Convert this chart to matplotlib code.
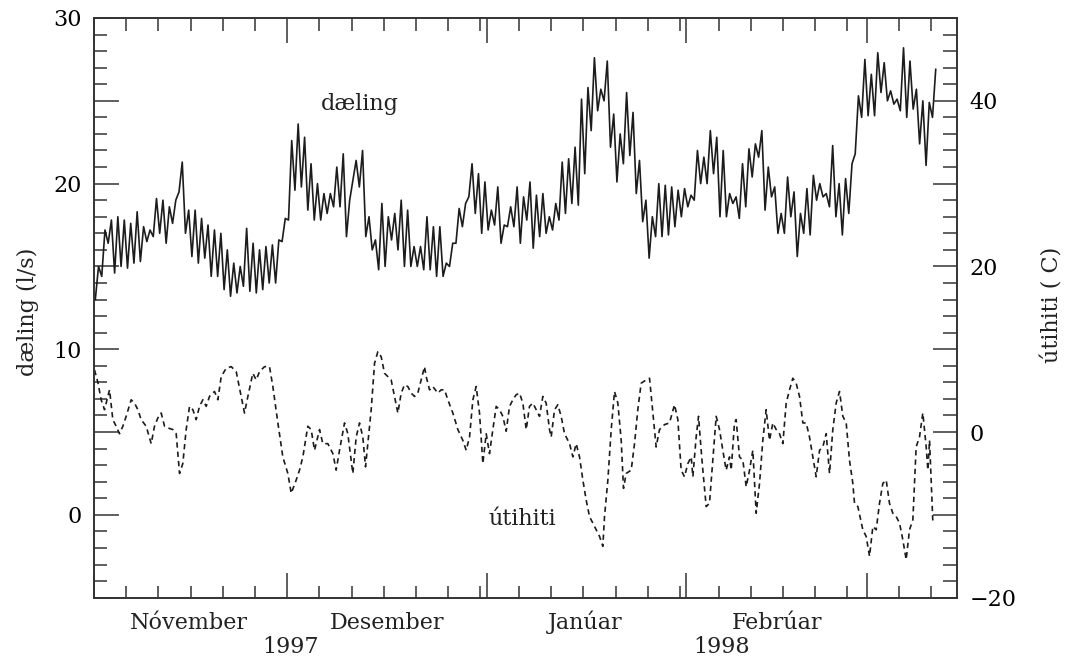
import matplotlib
matplotlib.use('Agg')
import matplotlib.pyplot as plt
import numpy as np
from matplotlib.ticker import MultipleLocator, FixedLocator, FuncFormatter

plt.rcParams['font.family'] = ['DejaVu Serif']

# dæling (l/s): daily high / low, day 0 = 1 Nov 1997
daeling_high = [15.0, 17.2, 17.8, 18.0, 17.8, 17.6, 18.3, 17.4, 17.2, 19.1,
                19.0, 18.6, 19.0, 21.3, 18.4, 18.4, 17.9, 17.5, 17.2, 17.0,
                16.0, 15.2, 15.0, 17.3, 16.4, 16.0, 16.2, 16.3, 16.6, 17.9,
                22.6, 23.6, 22.8, 21.2, 20.0, 19.4, 19.4, 21.0, 21.8, 19.0,
                21.4, 22.0, 18.0, 16.6, 18.8, 18.0, 18.2, 19.0, 18.4, 16.2,
                16.2, 18.0, 17.4, 17.4, 15.2, 16.4, 18.5, 18.8, 21.2, 20.6,
                20.1, 18.4, 19.8, 17.5, 18.6, 19.8, 19.2, 20.1, 19.3, 19.4,
                18.0, 18.8, 21.3, 21.5, 22.2, 25.1, 25.8, 27.6, 25.7, 27.4,
                24.2, 23.0, 25.5, 24.3, 21.4, 19.0, 18.0, 20.0, 19.9, 19.8,
                19.6, 19.7, 19.3, 22.0, 21.6, 23.2, 22.8, 22.0, 19.4, 19.2,
                21.2, 22.1, 22.4, 23.2, 21.0, 19.8, 18.2, 20.4, 19.5, 18.2,
                19.7, 20.5, 20.0, 19.4, 22.3, 20.0, 20.3, 21.2, 25.3, 27.5,
                26.6, 27.9, 27.3, 25.6, 25.1, 28.2, 27.4, 25.7, 25.0, 24.9,
                26.9]
daeling_low = [13.0, 14.4, 16.4, 14.6, 15.0, 14.9, 15.2, 15.3, 16.5, 16.8,
               17.0, 16.4, 17.6, 19.5, 17.0, 15.6, 15.2, 15.5, 14.4, 14.4,
               13.6, 13.2, 13.4, 13.8, 13.5, 13.4, 13.6, 14.0, 14.0, 16.5,
               17.8, 19.6, 19.8, 18.4, 17.8, 17.8, 18.2, 18.6, 18.6, 16.8,
               20.2, 19.8, 16.8, 16.0, 14.8, 15.0, 16.6, 16.0, 15.0, 15.0,
               15.0, 14.8, 14.8, 14.4, 14.4, 15.0, 16.4, 17.4, 19.2, 18.2,
               17.0, 17.2, 17.5, 16.4, 17.4, 17.4, 16.4, 17.8, 16.1, 16.8,
               17.0, 17.2, 17.8, 18.2, 18.8, 18.7, 20.6, 23.2, 24.4, 25.0,
               22.2, 20.1, 21.2, 21.7, 19.4, 17.7, 15.5, 16.8, 16.8, 16.9,
               17.4, 18.0, 18.6, 19.0, 20.0, 20.0, 20.6, 18.0, 18.0, 18.8,
               17.9, 18.6, 20.4, 21.6, 18.4, 19.2, 17.0, 17.0, 18.0, 15.6,
               17.0, 16.9, 19.0, 19.2, 18.6, 18.0, 16.9, 18.2, 21.8, 24.0,
               24.1, 24.1, 25.5, 25.0, 24.8, 24.4, 24.0, 24.5, 22.4, 21.1,
               24.0]

# útihiti (C): readings (day, value)
temp_day = [0.08, 0.6, 1.11, 1.63, 2.41, 2.92, 3.44, 3.96, 4.48, 4.99,
            5.77, 6.29, 6.81, 7.32, 8.10, 8.88, 9.39, 9.91, 10.43, 10.95,
            11.46, 12.24, 12.76, 13.28, 13.79, 14.31, 14.83, 15.35, 15.86, 16.38,
            16.90, 17.42, 17.93, 18.71, 19.23, 19.75, 20.52, 21.30, 22.08, 22.85,
            23.37, 23.89, 24.66, 25.18, 25.70, 26.48, 27.25, 27.77, 28.55, 29.32,
            30.10, 30.62, 31.39, 31.91, 32.43, 33.20, 33.72, 34.24, 35.02, 35.53,
            36.31, 37.09, 37.60, 38.12, 38.90, 39.41, 40.19, 40.71, 41.23, 41.74,
            42.16, 42.52, 43.04, 43.56, 44.07, 44.59, 45.11, 45.63, 46.14, 46.66,
            47.18, 47.70, 48.21, 48.73, 49.25, 49.77, 50.28, 50.80, 51.32, 51.58,
            52.10, 52.61, 53.39, 53.91, 54.43, 54.94, 55.72, 56.50, 57.27, 57.79,
            58.31, 58.83, 59.34, 59.86, 60.38, 60.90, 61.41, 61.93, 62.45, 62.97,
            63.48, 64.00, 64.52, 65.04, 65.55, 66.07, 66.59, 67.11, 67.62, 68.14,
            68.66, 69.18, 69.69, 70.21, 70.73, 70.99, 71.51, 72.02, 72.54, 73.06,
            73.84, 74.36, 74.87, 75.39, 75.91, 76.42, 76.94, 77.72, 78.50, 79.01,
            79.27, 79.79, 80.31, 80.82, 81.34, 81.86, 82.22, 82.63, 83.41, 83.93,
            84.44, 84.96, 85.74, 86.26, 86.78, 87.29, 87.81, 88.59, 89.36, 90.14,
            90.66, 91.17, 91.69, 92.21, 92.73, 92.99, 93.50, 93.87, 94.28, 94.54,
            95.06, 95.57, 96.09, 96.61, 97.13, 97.64, 98.16, 98.68, 98.94, 99.45,
            99.71, 100.23, 100.75, 101.27, 101.79, 102.30, 102.82, 103.34, 103.86, 104.37,
            104.89, 105.41, 105.93, 106.44, 106.96, 107.48, 108.00, 108.51, 109.03, 109.55,
            110.07, 110.59, 111.10, 111.62, 112.14, 112.66, 113.17, 113.69, 114.21, 114.72,
            115.24, 115.76, 116.28, 116.80, 117.31, 117.83, 118.09, 118.61, 119.38, 119.90,
            120.42, 120.94, 121.46, 121.97, 122.49, 123.01, 123.52, 124.04, 124.56, 125.08,
            125.59, 126.11, 126.63, 127.15, 127.66, 128.18, 128.70, 129.22, 129.48, 129.74,
            129.99, 130.25]
temp_val = [7.5, 6.0, 3.9, 2.7, 5.1, 1.5, 0.7, -0.2, 0.7, 1.9,
            3.9, 3.5, 2.7, 1.5, 0.7, -1.4, 0.7, 1.7, 2.3, 0.7,
            0.5, 0.3, -0.2, -5.0, -3.8, 0.3, 3.1, 2.7, 1.5, 3.1,
            3.9, 3.1, 4.3, 4.9, 3.9, 6.7, 7.7, 7.9, 7.3, 4.3,
            2.3, 4.3, 7.1, 6.3, 7.3, 7.9, 7.9, 5.5, 1.1, -3.0,
            -5.0, -7.4, -5.8, -4.6, -3.0, 0.7, 0.3, -2.2, 0.3, -1.4,
            -1.4, -2.6, -4.6, -2.2, 1.1, -0.2, -5.0, -0.6, 1.1, -0.6,
            -4.2, -1.4, 2.7, 8.3, 9.7, 9.1, 7.1, 6.7, 6.3, 4.3,
            2.3, 4.7, 5.7, 5.5, 4.7, 4.3, 4.7, 6.3, 7.9, 6.7,
            5.1, 5.5, 4.7, 5.1, 5.1, 3.9, 2.3, 0.3, -1.0, -2.2,
            -0.6, 3.9, 5.5, 2.3, -3.8, -0.2, -2.6, 0.3, 3.1, 2.7,
            1.9, 0.1, 3.1, 3.9, 4.5, 4.7, 3.5, 0.3, 3.1, 3.5,
            2.7, 1.9, 4.3, 3.5, 0.3, -0.6, 2.7, 3.3, 1.9, -0.2,
            -1.4, -3.0, -1.4, -3.0, -5.8, -8.2, -10.2, -11.4, -12.6, -13.8,
            -10.2, -5.8, 0.3, 4.9, 3.5, -1.0, -6.8, -5.0, -4.6, -1.4,
            2.7, 5.9, 6.3, 6.5, 2.3, -1.8, 0.3, 0.9, 1.1, 3.3,
            1.5, -4.6, -5.4, -3.8, -3.0, -5.4, -0.6, 1.9, -2.2, -4.6,
            -9.0, -8.6, -3.4, 1.9, 0.3, -2.2, -4.6, -3.0, -4.6, 1.1,
            1.5, -3.0, -3.4, -6.6, -4.6, -2.2, -9.8, -6.2, -0.9, 2.7,
            -1.0, 1.1, 0.3, -0.2, -1.4, 3.5, 5.1, 6.5, 5.9, 4.3,
            1.1, 1.1, -0.6, -3.0, -5.4, -2.2, -1.8, -0.2, -5.0, 0.3,
            3.5, 4.9, 1.9, 1.1, -3.4, -6.2, -8.6, -9.0, -11.8, -12.6,
            -15.0, -11.4, -11.8, -8.6, -6.2, -5.8, -8.6, -9.8, -10.2, -11.0,
            -13.0, -15.4, -11.8, -10.6, -1.8, -0.6, 2.3, -1.8, -4.6, -1.0,
            -5.8, -10.8]

month_labels = ['Nóvember', 'Desember', 'Janúar', 'Febrúar']
month_label_day = [14.7, 45.5, 76.3, 106.1]
year_labels = ['1997', '1998']
year_label_day = [30.5, 97.4]
month_start = [0, 30, 61, 92, 120]
month_len = [30, 31, 31, 28, 31]

# build series
days = np.arange(len(daeling_high))
t_d = np.column_stack([days + 0.2, days + 0.7]).ravel()
v_d = np.column_stack([daeling_low, daeling_high]).ravel()

minor_days = []
for s, n in zip(month_start, month_len):
    for k in range(5, n, 5):
        minor_days.append(s + k)

FS = 16
fig = plt.figure(figsize=(10.72, 6.69), dpi=100)
ax = fig.add_axes([0.0877, 0.1066, 0.805, 0.8665])
ax.plot(t_d, v_d, color='#1c1c1c', lw=1.2)
ax2 = ax.twinx()
ax2.plot(temp_day, temp_val, color='#1c1c1c', lw=1.2, linestyle=(0, (3.2, 2.4)))

ax.set_xlim(0, 134)
ax.set_ylim(-5, 30)
ax2.set_ylim(-20, 50)

for a in (ax, ax2):
    for sp in a.spines.values():
        sp.set_linewidth(1.2)
        sp.set_color('#333333')

ax.xaxis.set_major_locator(FixedLocator(month_start))
ax.xaxis.set_minor_locator(FixedLocator(minor_days))
ax.tick_params(axis='x', which='both', direction='in', top=True, bottom=True,
               labelbottom=False, color='#333333', width=1.1)
ax.tick_params(axis='x', which='major', length=18)
ax.tick_params(axis='x', which='minor', length=9)

ax.yaxis.set_major_locator(MultipleLocator(5))
ax.yaxis.set_minor_locator(MultipleLocator(1))
ax.yaxis.set_major_formatter(FuncFormatter(lambda v, p: f'{v:.0f}' if round(v) % 10 == 0 else ''))
ax.tick_params(axis='y', which='both', direction='in', left=True, right=False,
               labelsize=FS, pad=9, color='#333333', width=1.1)
ax.tick_params(axis='y', which='major', length=18)
ax.tick_params(axis='y', which='minor', length=9)

ax2.yaxis.set_major_locator(MultipleLocator(10))
ax2.yaxis.set_minor_locator(MultipleLocator(2))
ax2.yaxis.set_major_formatter(FuncFormatter(lambda v, p: f'{v:.0f}'.replace('-', '\u2212') if round(v) % 20 == 0 else ''))
ax2.tick_params(axis='y', which='both', direction='in', right=True, left=False,
                labelsize=FS, pad=9, color='#333333', width=1.1)
ax2.tick_params(axis='y', which='major', length=17)
ax2.tick_params(axis='y', which='minor', length=10)

xt = ax.get_xaxis_transform()
for lab, d in zip(month_labels, month_label_day):
    ax.text(d, -0.054, lab, transform=xt, ha='center', va='baseline', fontsize=FS, color='#222222')
for lab, d in zip(year_labels, year_label_day):
    ax.text(d, -0.0954, lab, transform=xt, ha='center', va='baseline', fontsize=FS, color='#222222')

ax.text(41.2, 24.45, 'dæling', ha='center', va='baseline', fontsize=FS, color='#222222')
ax.text(66.5, -0.61, 'útihiti', ha='center', va='baseline', fontsize=FS, color='#222222')

fig.text(28 / 1072, 1 - 312 / 669, 'dæling (l/s)', rotation=90, ha='center', va='center',
         fontsize=FS, color='#222222')
fig.text(1052 / 1072, 1 - 305 / 669, 'útihiti ( C)', rotation=90, ha='center', va='center',
         fontsize=FS, color='#222222')

fig.savefig('out.png', dpi=100)
